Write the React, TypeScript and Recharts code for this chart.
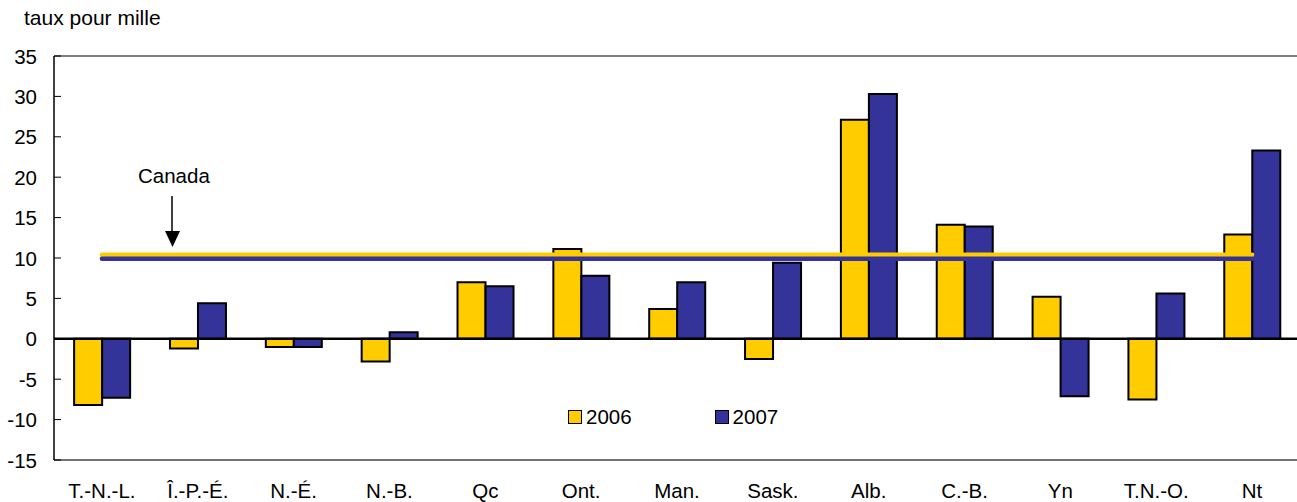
import React from 'react';
import { ComposedChart, Bar, Line, XAxis, YAxis, ReferenceLine } from 'recharts';

const categories = ['T.-N.-L.', 'Î.-P.-É.', 'N.-É.', 'N.-B.', 'Qc', 'Ont.', 'Man.', 'Sask.', 'Alb.', 'C.-B.', 'Yn', 'T.N.-O.', 'Nt'];
const values2006 = [-8.2, -1.2, -1.0, -2.8, 7.0, 11.1, 3.7, -2.5, 27.1, 14.1, 5.2, -7.5, 12.9];
const values2007 = [-7.3, 4.4, -1.0, 0.8, 6.5, 7.8, 7.0, 9.4, 30.3, 13.9, -7.1, 5.6, 23.3];
const canada2006 = 10.4;
const canada2007 = 9.9;
const yTicks = [-15, -10, -5, 0, 5, 10, 15, 20, 25, 30, 35];
const seriesNames = ['2006', '2007'];

const YELLOW = '#FFCC00';
const BLUE = '#333399';
const FONT = '"Liberation Sans", Arial, sans-serif';
const FS = 20.5;

const data = categories.map((c, i) => ({
  cat: c,
  v2006: values2006[i],
  v2007: values2007[i],
  c2006: canada2006,
  c2007: canada2007,
}));

const YTick = (props: any) => {
  const { x, y, payload } = props;
  return (
    <g>
      <line x1={x} y1={y} x2={x + 7} y2={y} stroke="#000" strokeWidth={1} />
      <text x={x - 17} y={y} textAnchor="end" dominantBaseline="central" fontSize={FS} fontFamily={FONT} fill="#000">
        {payload.value}
      </text>
    </g>
  );
};

const XTick = (props: any) => {
  const { x, y, payload } = props;
  return (
    <text x={x} y={y + 22} textAnchor="middle" dominantBaseline="central" fontSize={FS} fontFamily={FONT} fill="#000">
      {payload.value}
    </text>
  );
};

export default function App() {
  return (
    <div style={{ position: 'absolute', left: 0, top: 0, width: 1297, height: 502, overflow: 'hidden', background: '#fff' }}>
      <div style={{ position: 'absolute', left: 24, top: 6, fontFamily: FONT, fontSize: 21, color: '#000', whiteSpace: 'nowrap' }}>
        taux pour mille
      </div>
      <ComposedChart
        width={1300}
        height={502}
        data={data}
        margin={{ top: 56, right: 0, left: 0, bottom: 0 }}
        barCategoryGap="21%"
        barGap={0}
      >
        <XAxis
          dataKey="cat"
          height={42}
          tickLine={false}
          axisLine={{ stroke: '#444', strokeWidth: 1.5 }}
          tick={<XTick />}
          interval={0}
        />
        <YAxis
          width={54}
          domain={[-15, 35]}
          ticks={yTicks}
          tickSize={0}
          tickMargin={0}
          tick={<YTick />}
          axisLine={{ stroke: '#000', strokeWidth: 1.5 }}
          tickLine={false}
          interval={0}
        />
        <ReferenceLine y={35} stroke="#555" strokeWidth={1.5} />
        <Bar dataKey="v2006" name="2006" fill={YELLOW} stroke="#000" strokeWidth={2} isAnimationActive={false} />
        <Bar dataKey="v2007" name="2007" fill={BLUE} stroke="#000" strokeWidth={2} isAnimationActive={false} />
        <ReferenceLine y={0} stroke="#000" strokeWidth={2.5} />
        <Line dataKey="c2006" type="linear" stroke={YELLOW} strokeWidth={4.5} dot={false} activeDot={false} strokeLinecap="round" isAnimationActive={false} />
        <Line dataKey="c2007" type="linear" stroke={BLUE} strokeWidth={4.5} dot={false} activeDot={false} strokeLinecap="round" isAnimationActive={false} />
      </ComposedChart>
      <div style={{ position: 'absolute', left: 568, top: 405, display: 'flex', alignItems: 'center', fontFamily: FONT, fontSize: FS, color: '#000' }}>
        <span style={{ width: 12, height: 12, background: YELLOW, border: '1.5px solid #000', display: 'inline-block', marginRight: 4 }} />
        <span style={{ marginRight: 83 }}>{seriesNames[0]}</span>
        <span style={{ width: 12, height: 12, background: BLUE, border: '1.5px solid #000', display: 'inline-block', marginRight: 4 }} />
        <span>{seriesNames[1]}</span>
      </div>
      <div style={{ position: 'absolute', left: 138, top: 164, fontFamily: FONT, fontSize: FS, color: '#000', whiteSpace: 'nowrap' }}>
        Canada
      </div>
      <svg style={{ position: 'absolute', left: 0, top: 0 }} width={1297} height={502}>
        <line x1={172} y1={196} x2={172} y2={234} stroke="#000" strokeWidth={1.5} />
        <polygon points="165,231 180,231 172.5,247" fill="#000" />
      </svg>
    </div>
  );
}
